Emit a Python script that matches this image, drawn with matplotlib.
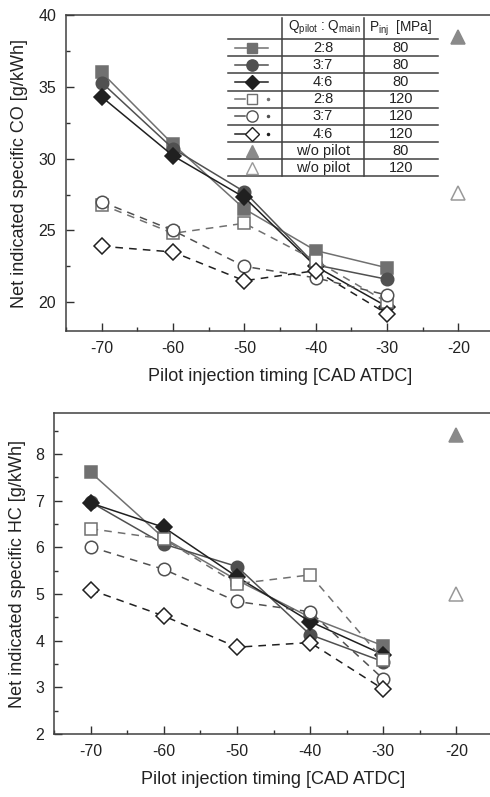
import matplotlib
matplotlib.use("Agg")
import matplotlib.pyplot as plt
from matplotlib.ticker import MultipleLocator

plt.rcParams["font.family"] = ["Liberation Sans", "DejaVu Sans"]
plt.rcParams["axes.unicode_minus"] = False

# pilot timing [CAD ATDC]
timing = [-70, -60, -50, -40, -30]
timing_wo = [-20]

# net indicated specific CO [g/kWh]
co_28_80 = [36.0, 31.0, 26.5, 23.6, 22.4]
co_37_80 = [35.3, 30.7, 27.7, 22.6, 21.6]
co_46_80 = [34.3, 30.2, 27.3, 22.5, 19.7]
co_28_120 = [26.8, 24.8, 25.5, 22.9, 20.0]
co_37_120 = [27.0, 25.0, 22.5, 21.7, 20.5]
co_46_120 = [23.9, 23.5, 21.5, 22.2, 19.2]
co_wo_80 = [38.5]
co_wo_120 = [27.6]

# net indicated specific HC [g/kWh]
hc_28_80 = [7.61, 6.20, 5.30, 4.50, 3.89]
hc_37_80 = [6.97, 6.07, 5.59, 4.13, 3.55]
hc_46_80 = [6.95, 6.43, 5.37, 4.41, 3.70]
hc_28_120 = [6.40, 6.18, 5.22, 5.41, 3.59]
hc_37_120 = [6.01, 5.53, 4.84, 4.62, 3.18]
hc_46_120 = [5.09, 4.53, 3.86, 3.96, 2.96]
hc_wo_80 = [8.4]
hc_wo_120 = [5.0]

ratio_labels = ["2:8", "3:7", "4:6", "2:8", "3:7", "4:6", "w/o pilot", "w/o pilot"]
pinj_labels = ["80", "80", "80", "120", "120", "120", "80", "120"]

W, H = 490, 797
GRAY = "#707070"
MID = "#505050"
DARK = "#202020"

# marker style for each series (filled 80 MPa, open 120 MPa)
styles = [
    dict(marker="s", color=GRAY, mfc=GRAY, mec=GRAY, ls="-", ms=8.5),
    dict(marker="o", color=MID, mfc=MID, mec=MID, ls="-", ms=9),
    dict(marker="D", color=DARK, mfc=DARK, mec=DARK, ls="-", ms=8),
    dict(marker="s", color=GRAY, mfc="white", mec=GRAY, ls=(0, (5, 4)), ms=8.5),
    dict(marker="o", color=MID, mfc="white", mec=MID, ls=(0, (5, 4)), ms=9),
    dict(marker="D", color=DARK, mfc="white", mec=DARK, ls=(0, (5, 4)), ms=8),
    dict(marker="^", color="#8a8a8a", mfc="#8a8a8a", mec="#8a8a8a", ls="none", ms=10),
    dict(marker="^", color="#999999", mfc="white", mec="#999999", ls="none", ms=10),
]


def px_axes(fig, left, top, right, bottom):
    return fig.add_axes([left / W, 1 - bottom / H, (right - left) / W, (bottom - top) / H])


def style_axes(ax, ylim, major, minor, ylabel, label_x):
    ax.set_xlim(-75, -15)
    ax.set_ylim(*ylim)
    ax.xaxis.set_major_locator(MultipleLocator(10))
    ax.xaxis.set_minor_locator(MultipleLocator(5))
    ax.yaxis.set_major_locator(MultipleLocator(major))
    ax.yaxis.set_minor_locator(MultipleLocator(minor))
    ax.tick_params(which="both", direction="in", colors="#303030", labelcolor="#222222",
                   labelsize=11.5, width=1)
    ax.tick_params(which="major", length=6, pad=7)
    ax.tick_params(which="minor", length=3)
    for sp in ax.spines.values():
        sp.set_color("#404040")
        sp.set_linewidth(1.1)
    ax.set_xlabel("Pilot injection timing [CAD ATDC]", fontsize=13, color="#222222", labelpad=9)
    ax.set_ylabel(ylabel, fontsize=13, color="#222222")
    ax.yaxis.set_label_coords(label_x, 0.5)


def draw_series(ax, series, wo):
    for vals, st in zip(series, styles[:6]):
        ax.plot(timing, vals, lw=1.1, mew=1.1, clip_on=False, **st)
    for vals, st in zip(wo, styles[6:]):
        ax.plot(timing_wo, vals, mew=1.1, clip_on=False, **st)


fig = plt.figure(figsize=(W / 100, H / 100), dpi=100)

ax1 = px_axes(fig, 66, 15, 494, 331)
style_axes(ax1, (18, 40), 5, 2.5, "Net indicated specific CO [g/kWh]", -0.089)
draw_series(ax1, [co_28_80, co_37_80, co_46_80, co_28_120, co_37_120, co_46_120],
            [co_wo_80, co_wo_120])

ax2 = px_axes(fig, 54, 413, 493, 734)
style_axes(ax2, (2, 8.88), 1, 0.5, "Net indicated specific HC [g/kWh]", -0.064)
draw_series(ax2, [hc_28_80, hc_37_80, hc_46_80, hc_28_120, hc_37_120, hc_46_120],
            [hc_wo_80, hc_wo_120])

# legend drawn as a small table inside the CO panel (figure pixel coords)
tf = fig.transFigure


def fx(px):
    return px / W


def fy(py):
    return 1 - py / H


line_kw = dict(transform=tf, color="#404040", lw=1.1)
row_lines = [39, 56.3, 73.3, 90.5, 107.6, 125, 142.3, 159.3, 176]
for yl in row_lines:
    fig.add_artist(plt.Line2D([fx(228), fx(438)], [fy(yl), fy(yl)], **line_kw))
for xl in (282, 364):
    fig.add_artist(plt.Line2D([fx(xl), fx(xl)], [fy(18), fy(176)], **line_kw))

txt_kw = dict(transform=tf, fontsize=10.5, color="#222222", ha="center", va="center")
head_kw = dict(txt_kw, fontsize=9.8)
fig.text(fx(324), fy(28), r"Q$_{\mathregular{pilot}}$ : Q$_{\mathregular{main}}$", **head_kw)
fig.text(fx(401), fy(28), r"P$_{\mathregular{inj}}$  [MPa]", **head_kw)

for i, st in enumerate(styles):
    yc = (row_lines[i] + row_lines[i + 1]) / 2
    fig.text(fx(323), fy(yc), ratio_labels[i], **txt_kw)
    fig.text(fx(401), fy(yc), pinj_labels[i], **txt_kw)
    ms = st["ms"] * 0.9
    mk = dict(marker=st["marker"], mfc=st["mfc"], mec=st["mec"], ms=ms, mew=1, ls="none")
    if i < 3:
        fig.add_artist(plt.Line2D([fx(235), fx(268)], [fy(yc), fy(yc)], transform=tf,
                                  color=st["color"], lw=1.1))
    elif i < 6:
        fig.add_artist(plt.Line2D([fx(235), fx(245)], [fy(yc), fy(yc)], transform=tf,
                                  color=st["color"], lw=1.1))
        fig.add_artist(plt.Line2D([fx(268)], [fy(yc)], transform=tf, marker="o",
                                  ms=1.5, color=st["color"], ls="none"))
    fig.add_artist(plt.Line2D([fx(252)], [fy(yc)], transform=tf, **mk))

fig.savefig("out.png", dpi=100)
